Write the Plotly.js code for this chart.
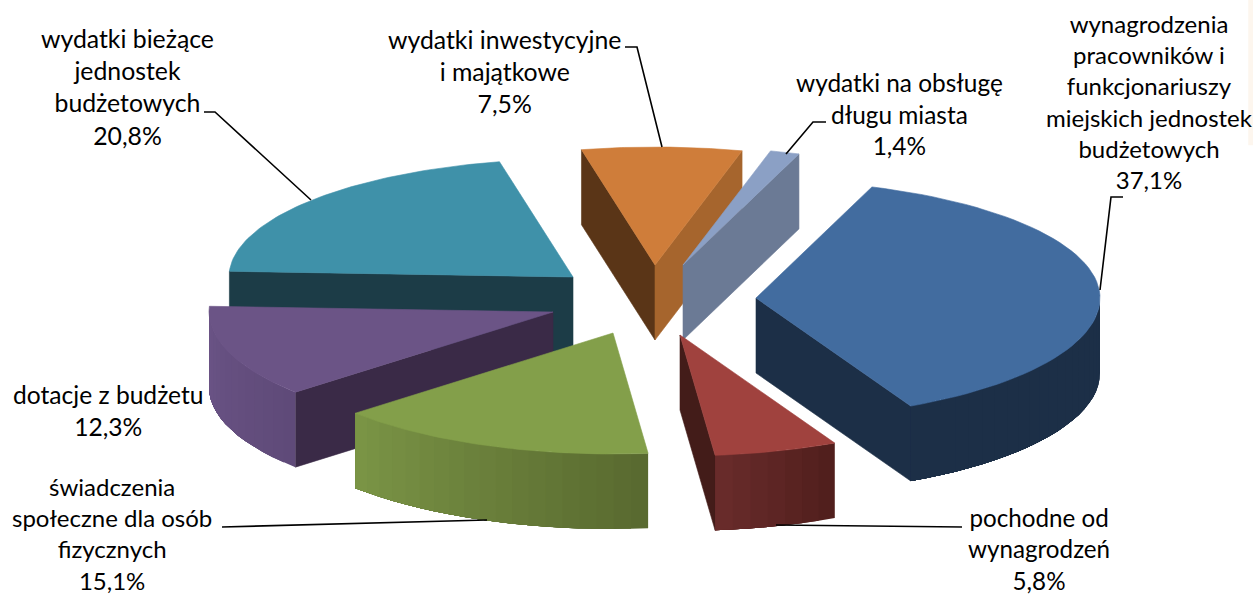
<!DOCTYPE html>
<html><head><meta charset="utf-8">
<script src="https://cdn.plot.ly/plotly-3.0.1.min.js"></script>
<style>html,body{margin:0;padding:0;background:#fff;overflow:hidden}#chart{width:1253px;height:595px}</style>
</head><body><div id="chart"></div>
<script>
// ---- data (percent shares, clockwise) ----
const categories = [
  "wynagrodzenia<br>pracowników i<br>funkcjonariuszy<br>miejskich jednostek<br>budżetowych",
  "pochodne od<br>wynagrodzeń",
  "świadczenia<br>społeczne dla osób<br>fizycznych",
  "dotacje z budżetu",
  "wydatki bieżące<br>jednostek<br>budżetowych",
  "wydatki inwestycyjne<br>i majątkowe",
  "wydatki na obsługę<br>długu miasta"
];
const shares = [37.1, 5.8, 15.1, 12.3, 20.8, 7.5, 1.4];
const shareLabels = ["37,1%","5,8%","15,1%","12,3%","20,8%","7,5%","1,4%"];

// ---- style ----
const topColors  = ["#426c9f","#a0423e","#839f4a","#6b5486","#3f91a9","#cf7d3a","#8ba0c5"];
const sideStart  = ["#1c2f47","#431c19","#5a6b31","#3a2a47","#1c3c47","#5a3517","#1c2f47"];
const sideEnd    = ["#1c2f47","#431c19","#839f4a","#3a2a47","#1c3c47","#a6652d","#6b7a95"];
const wallFrom   = ["#1c2f47","#6a2c2b","#7b9546","#6b5486","#1c3c47","#cf7d3a","#8ba0c5"];
const wallTo     = ["#1c2f47","#4f1e1c","#58692f","#5f4a78","#1c3c47","#cf7d3a","#8ba0c5"];
const pullX = [96, 20,-47,-107,-87,-5, 23];
const pullY = [-2, 35, 33,  12,-23,-35,-35];
const pieCX = 660, pieCY = 300, radX = 344, radYFar = 118, radYNear = 121, depth = 75, firstAngle = 19.7;
const drawOrder = [4,5,6,0,1,3,2];
const labelX = [1149,1039,112,108,127,504,899.5];
const labelY = [101,549,533.5,410,87,71.5,114];
const labelSize = [24,24.2,24,24.6,24.8,24.8,24.4];
const leaderX = [[1100,1111,1123],[776,962],[487,222],[],[311,215,204],[662,637,625],[786,813,826]];
const leaderY = [[290,197,197],[525,527],[520,527],[],[200,112,112],[147,47,47],[154,122,122]];

const rad = d => d*Math.PI/180;
function pt(ang,i,dz){const c=Math.cos(rad(ang));return [pieCX+pullX[i]+radX*Math.sin(rad(ang)), pieCY+pullY[i]-(c>0?radYFar:radYNear)*c+(dz||0)];}
function apex(i,dz){return [pieCX+pullX[i], pieCY+pullY[i]+(dz||0)];}
function hex(c){return [1,3,5].map(k=>parseInt(c.substr(k,2),16));}
function mix(a,b,t){const A=hex(a),B=hex(b);return "rgb("+A.map((v,k)=>Math.round(v+(B[k]-v)*t)).join(",")+")";}
function poly(pts,color,w){return {type:"scatter",mode:"lines",x:pts.map(p=>p[0]),y:pts.map(p=>p[1]),fill:"toself",fillcolor:color,
  line:{color:color,width:w===undefined?0.6:w},hoverinfo:"skip",showlegend:false};}

const traces=[];
let cum=firstAngle; const starts=[],ends=[];
shares.forEach((v,i)=>{starts.push(cum);cum+=v*3.6;ends.push(cum);});
drawOrder.forEach(i=>{
  const a0=starts[i],a1=ends[i];
  if(Math.cos(rad(a0-90))<0) traces.push(poly([apex(i),pt(a0,i),pt(a0,i,depth),apex(i,depth),apex(i)],sideStart[i]));
  if(Math.cos(rad(a1+90))<0) traces.push(poly([apex(i),pt(a1,i),pt(a1,i,depth),apex(i,depth),apex(i)],sideEnd[i]));
  const lo=Math.max(a0,90),hi=Math.min(a1,270);
  if(hi>lo){
    const n=Math.max(2,Math.ceil((hi-lo)/3));
    for(let k=0;k<n;k++){
      // each band runs to the end of the wall and the next paints over it, so no seams show
      const pts=[];
      for(let j=k;j<=n;j++) pts.push(pt(lo+(hi-lo)*j/n,i));
      for(let j=n;j>=k;j--) pts.push(pt(lo+(hi-lo)*j/n,i,depth));
      pts.push(pts[0]);
      traces.push(poly(pts,mix(wallTo[i],wallFrom[i],(k+.5)/n),0));
    }
  }
  const top=[apex(i)];
  for(let k=0;k<=60;k++) top.push(pt(a0+(a1-a0)*k/60,i));
  top.push(apex(i));
  traces.push(poly(top,topColors[i]));
});
leaderX.forEach((xs,i)=>{ if(xs.length) traces.push({type:"scatter",mode:"lines",x:xs,y:leaderY[i],line:{color:"#000",width:1.6},hoverinfo:"skip",showlegend:false});});

const annotations=categories.map((c,i)=>({x:labelX[i],y:labelY[i],xref:"x",yref:"y",xanchor:"center",yanchor:"middle",align:"center",showarrow:false,
  text:c+"<br>"+shareLabels[i],font:{family:"Lato, sans-serif",size:labelSize[i],color:"#000"}}));

Plotly.newPlot("chart",traces,{width:1253,height:595,margin:{l:0,r:0,t:0,b:0},paper_bgcolor:"#fff",plot_bgcolor:"#fff",showlegend:false,
  xaxis:{range:[0,1253],visible:false,fixedrange:true},yaxis:{range:[595,0],visible:false,fixedrange:true},annotations,
  shapes:[{type:"rect",xref:"paper",yref:"paper",x0:0.9962,x1:1,y0:0.756,y1:1,fillcolor:"#fdf6ee",line:{width:0},layer:"below"}]},{displayModeBar:false,staticPlot:true});
</script></body></html>
